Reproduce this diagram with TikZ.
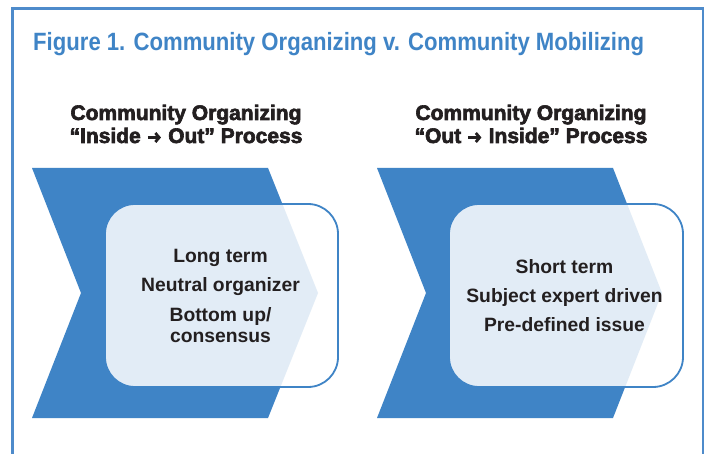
\documentclass[tikz,border=0pt]{standalone}
\usepackage{fontspec}
\usetikzlibrary{arrows.meta}
\setmainfont{Liberation Sans}
\newfontfamily\titlefont[FakeStretch=0.885]{Liberation Sans}
\newfontfamily\headfont[FakeBold=3]{Liberation Sans Bold}
\definecolor{figblue}{RGB}{63,132,198}
\definecolor{framec}{RGB}{78,139,203}
\definecolor{inkc}{RGB}{35,31,32}
\tikzset{
  titletext/.style={inner sep=0pt, text=figblue, font=\titlefont\bfseries\fontsize{25}{28}\selectfont},
  headtext/.style={inner sep=0pt, text=inkc, font=\headfont\fontsize{21}{24}\selectfont},
  bodytext/.style={inner sep=0pt, text=inkc, font=\bfseries\fontsize{19.3}{22}\selectfont},
  chev/.style={fill=figblue},
  panel/.style={draw=figblue, line width=1.8pt, fill=white, fill opacity=0.85, rounded corners=30pt},
}
\newcommand{\harrow}{\tikz[baseline=0pt,x=1pt,y=1pt]\draw[inkc, line width=2.8pt, -{Straight Barb[length=3.8pt,width=9pt,line width=2.8pt]}] (0,5.5) -- (13,5.5);}
\begin{document}
\begin{tikzpicture}[x=1pt,y=-1pt]
\useasboundingbox (0,0) rectangle (707,454);
\fill[white] (0,0) rectangle (707,454);
% frame
\draw[framec, line width=2.5pt] (12.5,454) -- (12.5,8.7) -- (703,8.7) -- (703,454);
% title
\node[titletext, anchor=base west] (title) at (33,51) {Figure 1. Community Organizing v. Community Mobilizing};
% headings
\node[headtext, anchor=base] (h1a) at (186,120) {Community Organizing};
\node[headtext, anchor=base] (h1b) at (186,143) {“Inside \harrow{} Out” Process};
\node[headtext, anchor=base] (h2a) at (531,120) {Community Organizing};
\node[headtext, anchor=base] (h2b) at (531,143) {“Out \harrow{} Inside” Process};
% left panel
\fill[chev] (32,168) -- (268,168) -- (318,293) -- (268,418) -- (32,418) -- (81,293) -- cycle;
\draw[panel] (105,204) rectangle (338,387);
\node[bodytext, anchor=base] (l1) at (220.5,262.7) {Long term};
\node[bodytext, anchor=base] (l2) at (220.5,291.7) {Neutral organizer};
\node[bodytext, anchor=base] (l3) at (220.5,321.5) {Bottom up/};
\node[bodytext, anchor=base] (l4) at (220.5,342) {consensus};
% right panel
\fill[chev] (377,168) -- (613,168) -- (662,293) -- (613,418) -- (377,418) -- (426,293) -- cycle;
\draw[panel] (449,204) rectangle (683,387);
\node[bodytext, anchor=base] (r1) at (564.5,274) {Short term};
\node[bodytext, anchor=base] (r2) at (564.5,303) {Subject expert driven};
\node[bodytext, anchor=base] (r3) at (564.5,331.7) {Pre-defined issue};
\end{tikzpicture}
\end{document}
